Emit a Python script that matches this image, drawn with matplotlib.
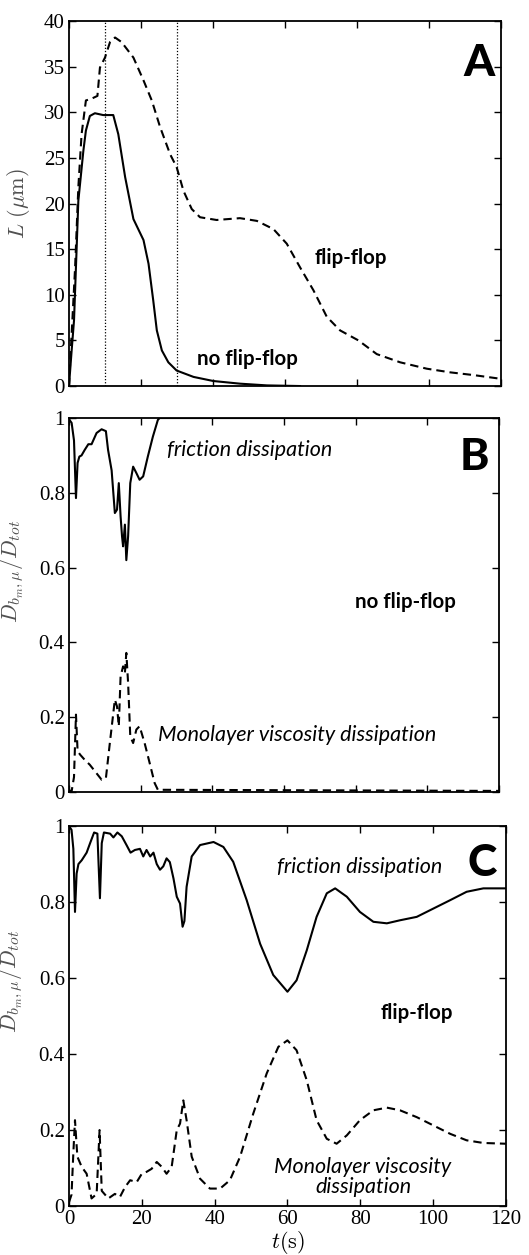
import matplotlib
matplotlib.use("Agg")
import matplotlib.pyplot as plt
from matplotlib.ticker import FormatStrFormatter, NullFormatter

# --- panel A: length L (um) vs t (s) ---
a_t_noflip = [0, 0.74, 1.4, 2.6, 4.0, 4.7, 5.8, 7.2, 9.5, 12.3, 13.7, 15.6, 17.9,
              20.7, 22.1, 23.4, 24.4, 25.8, 27.6, 29.9, 34.6, 40.1, 47.5, 55, 64.2]
a_L_noflip = [0, 3.9, 7.2, 20.3, 25.8, 28.0, 29.6, 29.9, 29.7, 29.7, 27.6, 22.9, 18.3,
              16.0, 13.4, 9.4, 6.1, 3.9, 2.6, 1.7, 1.0, 0.55, 0.26, 0.07, 0.0]

a_t_flip = [0, 0.74, 1.7, 2.6, 3.5, 4.7, 6.3, 7.9, 8.6, 10.0, 11.4, 12.8, 14.6, 17.9,
            20.7, 23.0, 25.3, 28.1, 29.9, 31.8, 34.1, 36.4, 41.0, 47.5, 52.2, 56.8,
            60.5, 64.2, 67.9, 71.6, 75.3, 80.4, 85.5, 92.0, 99.4, 105.9, 112.4, 119.8]
a_L_flip = [0, 5.7, 13.0, 21.8, 27.6, 31.3, 31.5, 31.8, 34.9, 36.0, 37.7, 38.2, 37.7, 36.0,
            33.5, 31.3, 28.4, 25.4, 24.0, 21.4, 19.4, 18.5, 18.2, 18.4, 18.1, 17.2,
            15.6, 13.0, 10.5, 7.6, 6.1, 5.0, 3.5, 2.6, 1.9, 1.5, 1.2, 0.8]

a_markers = [10, 30]

# --- panel B: dissipation fractions, no flip-flop ---
b_t_fric = [0, 0.74, 1.4, 1.95, 2.4, 2.9, 3.5, 4.4, 5.4, 6.3, 7.7, 9.1, 10.3, 10.9, 11.9,
            12.8, 13.4, 13.9, 14.4, 14.8, 15.1, 15.6, 16.0, 16.5, 17.1, 17.9, 18.8, 19.7,
            20.7, 22.0, 23.4, 24.8, 25.3, 120]
b_v_fric = [0.997, 0.987, 0.94, 0.786, 0.88, 0.897, 0.90, 0.915, 0.93, 0.93, 0.96, 0.97,
            0.965, 0.915, 0.86, 0.746, 0.755, 0.826, 0.737, 0.684, 0.657, 0.715, 0.62,
            0.684, 0.826, 0.87, 0.853, 0.835, 0.844, 0.897, 0.95, 0.995, 1.0, 1.0]

b_t_visc = [0, 0.7, 1.4, 1.95, 2.4, 3.1, 4.4, 5.8, 7.7, 9.1, 10.3, 11.4, 12.8, 13.4, 13.9,
            14.4, 15.1, 15.6, 16.0, 16.5, 17.1, 17.9, 18.8, 19.7, 21.1, 22.5, 23.9, 24.8, 120]
b_v_visc = [0.006, 0.0, 0.04, 0.207, 0.11, 0.10, 0.086, 0.073, 0.05, 0.033, 0.037, 0.131,
            0.247, 0.229, 0.176, 0.309, 0.336, 0.318, 0.372, 0.291, 0.149, 0.131, 0.167,
            0.176, 0.131, 0.078, 0.024, 0.006, 0.003]

# --- panel C: dissipation fractions, flip-flop ---
c_t_fric = [0, 0.7, 1.2, 1.65, 2.1, 2.6, 3.5, 4.85, 5.8, 6.9, 7.8, 8.5, 9.0, 9.6, 11.3,
            12.2, 13.3, 14.5, 15.8, 16.9, 18.1, 19.5, 20.4, 21.3, 22.3, 23.2, 24.1, 25.0,
            25.9, 26.8, 27.7, 28.7, 29.6, 30.5, 31.2, 31.7, 32.3, 33.7, 36.0, 39.7, 42.4,
            45.1, 48.8, 52.5, 56.1, 60.0, 62.5, 65.3, 68.0, 70.8, 73.1, 76.3, 79.9, 83.6,
            87.3, 90.9, 95.5, 100.1, 104.7, 109.2, 113.8, 120]
c_v_fric = [1.0, 0.99, 0.94, 0.774, 0.875, 0.90, 0.91, 0.93, 0.955, 0.983, 0.98, 0.81,
            0.955, 0.983, 0.98, 0.97, 0.983, 0.973, 0.95, 0.93, 0.937, 0.94, 0.92, 0.937,
            0.92, 0.93, 0.90, 0.885, 0.894, 0.915, 0.905, 0.862, 0.814, 0.796, 0.735, 0.75,
            0.84, 0.92, 0.95, 0.958, 0.945, 0.906, 0.805, 0.69, 0.608, 0.564, 0.594, 0.673,
            0.761, 0.823, 0.836, 0.814, 0.774, 0.748, 0.744, 0.752, 0.761, 0.783, 0.805,
            0.827, 0.836, 0.836]

c_t_visc = [0, 0.7, 1.2, 1.65, 2.3, 3.5, 4.85, 6.2, 7.6, 8.4, 9.0, 10.8, 12.6, 14.0, 15.4,
            16.8, 18.6, 20.0, 21.3, 22.7, 24.1, 25.5, 26.8, 28.2, 29.6, 30.5, 31.4, 32.3,
            33.7, 36.0, 38.7, 41.5, 44.2, 47.0, 50.6, 54.3, 57.5, 60.0, 62.5, 65.3, 68.0,
            70.8, 73.5, 76.3, 79.9, 83.6, 87.3, 90.9, 95.5, 100.1, 104.7, 109.2, 113.8, 120]
c_v_visc = [0.01, 0.03, 0.14, 0.226, 0.13, 0.103, 0.085, 0.02, 0.032, 0.20, 0.04, 0.02,
            0.032, 0.024, 0.05, 0.068, 0.063, 0.085, 0.09, 0.098, 0.116, 0.103, 0.085,
            0.103, 0.20, 0.217, 0.278, 0.226, 0.13, 0.072, 0.046, 0.046, 0.068, 0.13,
            0.243, 0.349, 0.419, 0.436, 0.41, 0.331, 0.226, 0.177, 0.164, 0.186, 0.226,
            0.252, 0.259, 0.252, 0.234, 0.212, 0.19, 0.173, 0.166, 0.164]

plt.rcParams["font.family"] = ["Liberation Serif", "DejaVu Serif"]
plt.rcParams["mathtext.fontset"] = "cm"

TICK_FONT = ["Liberation Serif", "DejaVu Serif"]
LABEL_GREY = "#505050"
ANNOT_FONT = ["Lato", "DejaVu Sans"]
ITAL_SIZE = 15.5
BOLD_SIZE = 14.8
LW = 1.5
DASH = (4, 2.4)

fig = plt.figure(figsize=(5.29, 12.55), dpi=100)
ax_a = fig.add_axes([0.1304, 0.6924, 0.8166, 0.2908])
ax_b = fig.add_axes([0.1304, 0.3689, 0.8130, 0.2980])
ax_c = fig.add_axes([0.1304, 0.0390, 0.8260, 0.3028])


def style_axis(ax):
    for sp in ax.spines.values():
        sp.set_linewidth(1.3)
    ax.tick_params(direction="in", top=True, right=True, length=5, width=1,
                   labelsize=15, pad=3)
    ax.set_xlim(0, 120)
    ax.set_xticks(range(0, 121, 20))


def fix_tick_font(ax):
    for lab in ax.get_xticklabels() + ax.get_yticklabels():
        lab.set_fontfamily(TICK_FONT)


# 📈 A
style_axis(ax_a)
ax_a.plot(a_t_noflip, a_L_noflip, color="black", lw=LW)
ax_a.plot(a_t_flip, a_L_flip, color="black", lw=LW, dashes=DASH)
for xm in a_markers:
    ax_a.axvline(xm, color="black", lw=0.9, ls=(0, (1, 1.5)))
ax_a.set_ylim(0, 40)
ax_a.set_yticks(range(0, 41, 5))
ax_a.xaxis.set_major_formatter(NullFormatter())
ax_a.set_ylabel(r"$L\ (\mu\mathrm{m})$", fontsize=16, color=LABEL_GREY)
ax_a.yaxis.set_label_coords(-0.085, 0.5)
ax_a.text(68.3, 14.0, "flip-flop", family=ANNOT_FONT, weight="bold", fontsize=BOLD_SIZE,
          va="center", ha="left")
ax_a.text(35.5, 3.0, "no flip-flop", family=ANNOT_FONT, weight="bold", fontsize=BOLD_SIZE,
          va="center", ha="left")
ax_a.text(0.985, 0.94, "A", transform=ax_a.transAxes, family=ANNOT_FONT,
          weight="black", fontsize=32, ha="right", va="top")

# 📈 B
style_axis(ax_b)
ax_b.plot(b_t_fric, b_v_fric, color="black", lw=LW)
ax_b.plot(b_t_visc, b_v_visc, color="black", lw=LW, dashes=DASH)
ax_b.set_ylim(0, 1)
ax_b.set_yticks([0, 0.2, 0.4, 0.6, 0.8, 1])
ax_b.yaxis.set_major_formatter(FormatStrFormatter("%g"))
ax_b.xaxis.set_major_formatter(NullFormatter())
ax_b.set_ylabel(r"$D_{b_m,\mu}/D_{tot}$", fontsize=16, color=LABEL_GREY)
ax_b.yaxis.set_label_coords(-0.1, 0.59)
ax_b.text(0.228, 0.914, "friction dissipation", transform=ax_b.transAxes,
          family=ANNOT_FONT, style="italic", fontsize=ITAL_SIZE, ha="left", va="center")
ax_b.text(0.665, 0.508, "no flip-flop", transform=ax_b.transAxes,
          family=ANNOT_FONT, weight="bold", fontsize=BOLD_SIZE, ha="left", va="center")
ax_b.text(0.207, 0.152, "Monolayer viscosity dissipation", transform=ax_b.transAxes,
          family=ANNOT_FONT, style="italic", fontsize=ITAL_SIZE, ha="left", va="center")
ax_b.text(0.978, 0.95, "B", transform=ax_b.transAxes, family=ANNOT_FONT,
          weight="black", fontsize=32, ha="right", va="top")

# 📈 C
style_axis(ax_c)
ax_c.plot(c_t_fric, c_v_fric, color="black", lw=LW)
ax_c.plot(c_t_visc, c_v_visc, color="black", lw=LW, dashes=DASH)
ax_c.set_ylim(0, 1)
ax_c.set_yticks([0, 0.2, 0.4, 0.6, 0.8, 1])
ax_c.yaxis.set_major_formatter(FormatStrFormatter("%g"))
ax_c.set_ylabel(r"$D_{b_m,\mu}/D_{tot}$", fontsize=16, color=LABEL_GREY)
ax_c.yaxis.set_label_coords(-0.1, 0.59)
ax_c.set_xlabel(r"$t(\mathrm{s})$", fontsize=16, labelpad=0)
ax_c.text(0.476, 0.892, "friction dissipation", transform=ax_c.transAxes,
          family=ANNOT_FONT, style="italic", fontsize=ITAL_SIZE, ha="left", va="center")
ax_c.text(0.714, 0.508, "flip-flop", transform=ax_c.transAxes,
          family=ANNOT_FONT, weight="bold", fontsize=BOLD_SIZE, ha="left", va="center")
ax_c.text(0.673, 0.076, "Monolayer viscosity\ndissipation", transform=ax_c.transAxes,
          family=ANNOT_FONT, style="italic", fontsize=ITAL_SIZE, ha="center", va="center",
          linespacing=1.0)
ax_c.text(0.98, 0.955, "C", transform=ax_c.transAxes, family=ANNOT_FONT,
          weight="black", fontsize=32, ha="right", va="top")

for ax in (ax_a, ax_b, ax_c):
    fix_tick_font(ax)

fig.savefig("out.png", dpi=100)
plt.close(fig)
